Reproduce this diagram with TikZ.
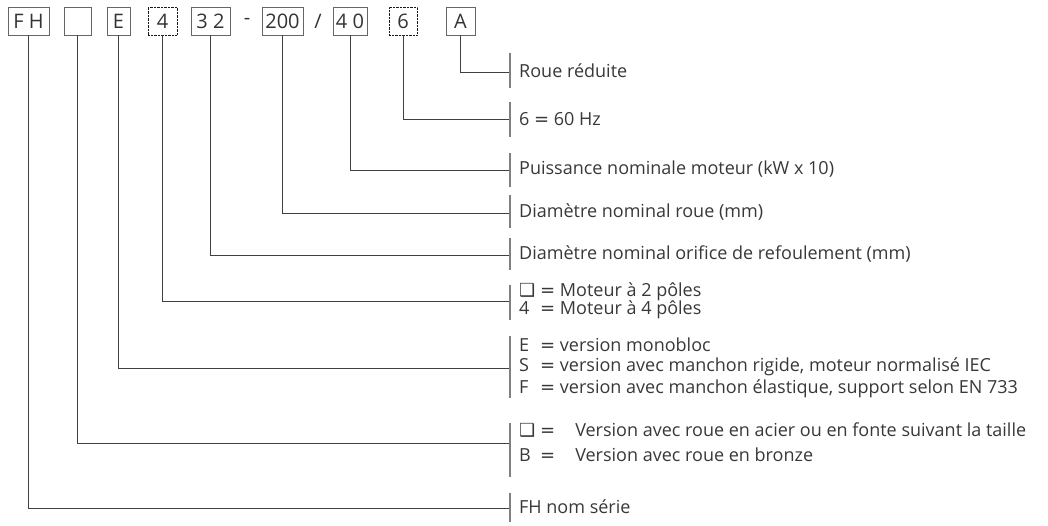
\documentclass[tikz,border=0pt]{standalone}
\usepackage{fontspec}
\setmainfont{Open Sans}
\newfontfamily\symfont{DejaVu Sans}
\newcommand{\cbox}{{\symfont ❑}}
\newcommand{\eqs}{{\symfont =}}
\newcommand{\keyeq}[1]{\makebox[21pt][l]{#1}\eqs}

\begin{document}
\begin{tikzpicture}[
    x=1pt, y=-1pt,
    font=\fontsize{18}{20}\selectfont,
    code/.style = { draw=black!60, text=black!80, minimum height=28pt, inner sep=0pt,
                    font=\fontsize{20}{22}\selectfont },
    optcode/.style = { code, densely dotted, draw=black!90 },
    sep/.style = { inner sep=0pt, text=black!80, font=\fontsize{20}{22}\selectfont },
    lead/.style = { draw=black!75, line width=0.8pt },
    bar/.style = { draw=black!50, line width=1.1pt },
    desc/.style = { anchor=west, inner sep=0pt, text=black!78 },
    ]
    \useasboundingbox (0,0) rectangle (1048,525);

    % type code
    \node[code, minimum width=41pt] (fh) at (28.5,21) {F H};
    \node[code, minimum width=27pt] (wheel) at (77.5,21) {};
    \node[code, minimum width=23pt] (ver) at (118.5,21) {E};
    \node[optcode, minimum width=29pt] (poles) at (162.5,21) {4};
    \node[code, minimum width=39pt] (outlet) at (210.5,21) {3 2};
    \node[sep] (dash) at (247,21) {-};
    \node[code, minimum width=41pt] (imp) at (282.5,21) {200};
    \node[sep] (slash) at (318,21) {/};
    \node[code, minimum width=34pt] (power) at (350,21) {4 0};
    \node[optcode, minimum width=28pt] (freq) at (403,21) {6};
    \node[code, minimum width=29pt] (red) at (460.5,21) {A};

    % ends of the leaders
    \coordinate (tred) at (510,72);
    \coordinate (tfreq) at (510,119);
    \coordinate (tpower) at (510,170);
    \coordinate (timp) at (510,213);
    \coordinate (toutlet) at (510,255);
    \coordinate (tpoles) at (510,301);
    \coordinate (tver) at (510,368);
    \coordinate (twheel) at (510,443);
    \coordinate (tfh) at (510,508);

    \draw[lead] (red.south) |- (tred);
    \draw[lead] (freq.south) |- (tfreq);
    \draw[lead] (power.south) |- (tpower);
    \draw[lead] (imp.south) |- (timp);
    \draw[lead] (outlet.south) |- (toutlet);
    \draw[lead] (poles.south) |- (tpoles);
    \draw[lead] (ver.south) |- (tver);
    \draw[lead] (wheel.south) |- (twheel);
    \draw[lead] (fh.south) |- (tfh);

    % brackets
    \draw[bar] (510,53) -- (510,88);
    \draw[bar] (510,102) -- (510,137);
    \draw[bar] (510,153) -- (510,187);
    \draw[bar] (510,195) -- (510,228);
    \draw[bar] (510,238) -- (510,270);
    \draw[bar] (510,285) -- (510,320);
    \draw[bar] (510,336) -- (510,398);
    \draw[bar] (510,423) -- (510,477);
    \draw[bar] (510,493) -- (510,522);

    % meanings
    \node[desc] (dred) at (519,71) {Roue réduite};
    \node[desc] (dfreq) at (519,119) {6 \eqs\ 60 Hz};
    \node[desc] (dpower) at (519,169) {Puissance nominale moteur (kW x 10)};
    \node[desc] (dimp) at (519,212) {Diamètre nominal roue (mm)};
    \node[desc] (doutlet) at (519,254) {Diamètre nominal orifice de refoulement (mm)};
    \node[desc] (dpole2) at (519,292) {\keyeq{\cbox} Moteur à 2 pôles};
    \node[desc] (dpole4) at (519,310) {\keyeq{4} Moteur à 4 pôles};
    \node[desc] (dverE) at (519,345) {\keyeq{E} version monobloc};
    \node[desc] (dverS) at (519,367) {\keyeq{S} version avec manchon rigide, moteur normalisé IEC};
    \node[desc] (dverF) at (519,389) {\keyeq{F} version avec manchon élastique, support selon EN 733};
    \node[desc] (dwheel1) at (519,430) {\keyeq{\cbox}\hspace{20pt}Version avec roue en acier ou en fonte suivant la taille};
    \node[desc] (dwheel2) at (519,455) {\keyeq{B}\hspace{20pt}Version avec roue en bronze};
    \node[desc] (dfh) at (519,507) {FH nom série};

\end{tikzpicture}
\end{document}
